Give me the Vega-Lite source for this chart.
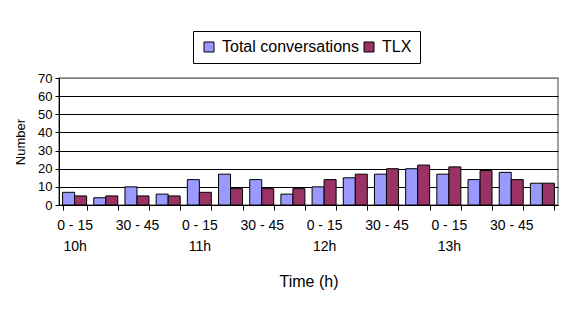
{
  "$schema": "https://vega.github.io/schema/vega-lite/v6.json",
  "width": 499,
  "height": 127,
  "autosize": {"type": "none"},
  "padding": {"left": 59, "top": 78, "right": 11, "bottom": 106},
  "background": "white",
  "data": {
    "values": [
      {"slot": "10h|0 - 15", "series": "Total conversations", "n": 7},
      {"slot": "10h|0 - 15", "series": "TLX", "n": 5},
      {"slot": "10h|15 - 30", "series": "Total conversations", "n": 4},
      {"slot": "10h|15 - 30", "series": "TLX", "n": 5},
      {"slot": "10h|30 - 45", "series": "Total conversations", "n": 10},
      {"slot": "10h|30 - 45", "series": "TLX", "n": 5},
      {"slot": "10h|45 - 60", "series": "Total conversations", "n": 6},
      {"slot": "10h|45 - 60", "series": "TLX", "n": 5},
      {"slot": "11h|0 - 15", "series": "Total conversations", "n": 14},
      {"slot": "11h|0 - 15", "series": "TLX", "n": 7},
      {"slot": "11h|15 - 30", "series": "Total conversations", "n": 17},
      {"slot": "11h|15 - 30", "series": "TLX", "n": 9},
      {"slot": "11h|30 - 45", "series": "Total conversations", "n": 14},
      {"slot": "11h|30 - 45", "series": "TLX", "n": 9},
      {"slot": "11h|45 - 60", "series": "Total conversations", "n": 6},
      {"slot": "11h|45 - 60", "series": "TLX", "n": 9},
      {"slot": "12h|0 - 15", "series": "Total conversations", "n": 10},
      {"slot": "12h|0 - 15", "series": "TLX", "n": 14},
      {"slot": "12h|15 - 30", "series": "Total conversations", "n": 15},
      {"slot": "12h|15 - 30", "series": "TLX", "n": 17},
      {"slot": "12h|30 - 45", "series": "Total conversations", "n": 17},
      {"slot": "12h|30 - 45", "series": "TLX", "n": 20},
      {"slot": "12h|45 - 60", "series": "Total conversations", "n": 20},
      {"slot": "12h|45 - 60", "series": "TLX", "n": 22},
      {"slot": "13h|0 - 15", "series": "Total conversations", "n": 17},
      {"slot": "13h|0 - 15", "series": "TLX", "n": 21},
      {"slot": "13h|15 - 30", "series": "Total conversations", "n": 14},
      {"slot": "13h|15 - 30", "series": "TLX", "n": 19},
      {"slot": "13h|30 - 45", "series": "Total conversations", "n": 18},
      {"slot": "13h|30 - 45", "series": "TLX", "n": 14},
      {"slot": "13h|45 - 60", "series": "Total conversations", "n": 12},
      {"slot": "13h|45 - 60", "series": "TLX", "n": 12}
    ]
  },
  "mark": {"type": "bar", "stroke": "black", "strokeWidth": 1},
  "encoding": {
    "x": {
      "field": "slot",
      "type": "nominal",
      "sort": null,
      "scale": {"paddingInner": 0.23, "paddingOuter": 0.115},
      "axis": {
        "title": "Time (h)",
        "labelAngle": 0,
        "labelOverlap": false,
        "tickBand": "extent",
        "tickSize": 5,
        "tickColor": "black",
        "domainColor": "black",
        "labelPadding": 8,
        "labelFontSize": 14,
        "labelLineHeight": 21,
        "labelBaseline": "top",
        "labelExpr": "split(datum.value, '|')[1] == '0 - 15' ? [split(datum.value, '|')[1], split(datum.value, '|')[0]] : (split(datum.value, '|')[1] == '30 - 45' ? split(datum.value, '|')[1] : '')",
        "titleFontSize": 16,
        "titlePadding": 20
      }
    },
    "xOffset": {"field": "series", "type": "nominal", "sort": ["Total conversations", "TLX"], "scale": {"paddingInner": 0, "paddingOuter": 0}},
    "y": {
      "field": "n",
      "type": "quantitative",
      "scale": {"domain": [0, 70], "nice": false},
      "axis": {
        "title": "Number",
        "values": [0, 10, 20, 30, 40, 50, 60, 70],
        "tickSize": 4,
        "tickColor": "black",
        "domainColor": "black",
        "labelPadding": 3,
        "labelFontSize": 13,
        "titleFontSize": 13,
        "titlePadding": 10,
        "grid": true,
        "gridColor": {"condition": {"test": "datum.value == 70", "value": "#808080"}, "value": "black"},
        "gridOpacity": 1,
        "gridWidth": 1
      }
    },
    "color": {
      "field": "series",
      "type": "nominal",
      "sort": ["Total conversations", "TLX"],
      "scale": {"domain": ["Total conversations", "TLX"], "range": ["#9999FF", "#993366"]},
      "legend": {
        "title": null,
        "orient": "none",
        "direction": "horizontal",
        "legendX": 134,
        "legendY": -47,
        "symbolType": "square",
        "symbolSize": 100,
        "symbolStrokeColor": "black",
        "symbolStrokeWidth": 1,
        "symbolOpacity": 1,
        "labelFontSize": 16,
        "labelOffset": 5,
        "columnPadding": 2,
        "padding": 8,
        "strokeColor": "black",
        "labelColor": "black"
      }
    }
  },
  "config": {
    "font": "Liberation Sans",
    "view": {"stroke": "#808080", "strokeWidth": 1.5},
    "axis": {
      "labelColor": "black",
      "titleColor": "black",
      "titleFontWeight": "normal",
      "labelFont": "Liberation Sans",
      "titleFont": "Liberation Sans",
      "domainWidth": 1
    },
    "legend": {"labelFont": "Liberation Sans"}
  }
}
